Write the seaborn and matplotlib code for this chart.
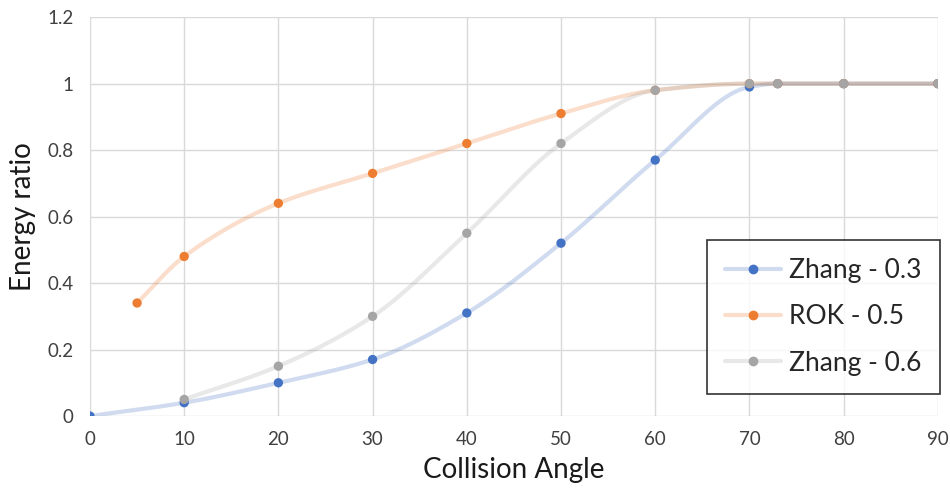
import numpy as np
import pandas as pd
import matplotlib
matplotlib.use("Agg")
import matplotlib.pyplot as plt
import seaborn as sns
from matplotlib.lines import Line2D

# Energy ratio versus collision angle for three models
zhang03_angle = [0, 10, 20, 30, 40, 50, 60, 70, 73, 80, 90]
zhang03_ratio = [0, 0.04, 0.10, 0.17, 0.31, 0.52, 0.77, 0.99, 1.0, 1.0, 1.0]

rok05_angle = [5, 10, 20, 30, 40, 50, 60, 70, 73, 80, 90]
rok05_ratio = [0.34, 0.48, 0.64, 0.73, 0.82, 0.91, 0.98, 1.0, 1.0, 1.0, 1.0]

zhang06_angle = [10, 20, 30, 40, 50, 60, 70, 73, 80, 90]
zhang06_ratio = [0.05, 0.15, 0.30, 0.55, 0.82, 0.98, 1.0, 1.0, 1.0, 1.0]

series_names = ["Zhang - 0.3", "ROK - 0.5", "Zhang - 0.6"]
series_colors = ["#4472C4", "#ED7D31", "#A5A5A5"]

x_ticks = [0, 10, 20, 30, 40, 50, 60, 70, 80, 90]
y_ticks = [0, 0.2, 0.4, 0.6, 0.8, 1.0, 1.2]
y_tick_labels = ["0", "0.2", "0.4", "0.6", "0.8", "1", "1.2"]


def smooth_curve(x, y, steps=30):
    """Monotone cubic (Fritsch-Carlson) curve through the points, for a smoothed line."""
    x = np.asarray(x, float)
    y = np.asarray(y, float)
    h = np.diff(x)
    d = np.diff(y) / h
    n = len(x)
    m = np.zeros(n)
    m[0], m[-1] = d[0], d[-1]
    for i in range(1, n - 1):
        if d[i - 1] * d[i] <= 0:
            m[i] = 0.0
        else:
            w1 = 2 * h[i] + h[i - 1]
            w2 = h[i] + 2 * h[i - 1]
            m[i] = (w1 + w2) / (w1 / d[i - 1] + w2 / d[i])
    xs, ys = [], []
    t = np.linspace(0, 1, steps)
    for i in range(n - 1):
        h00 = 2 * t**3 - 3 * t**2 + 1
        h10 = t**3 - 2 * t**2 + t
        h01 = -2 * t**3 + 3 * t**2
        h11 = t**3 - t**2
        xs.append(x[i] + t * h[i])
        ys.append(h00 * y[i] + h10 * h[i] * m[i] + h01 * y[i + 1] + h11 * h[i] * m[i + 1])
    return np.concatenate(xs), np.concatenate(ys)


sns.set_theme(style="white")
plt.rcParams["font.family"] = ["Lato", "DejaVu Sans"]

fig = plt.figure(figsize=(9.5, 4.9), dpi=100)
ax = fig.add_axes([0.0947, 0.151, 0.8925, 0.814])

all_series = [
    (zhang03_angle, zhang03_ratio),
    (rok05_angle, rok05_ratio),
    (zhang06_angle, zhang06_ratio),
]

frames = []
for name, (xa, ya) in zip(series_names, all_series):
    frames.append(pd.DataFrame({"angle": xa, "ratio": ya, "series": name}))
points = pd.concat(frames, ignore_index=True)

for name, color, (xa, ya) in zip(series_names, series_colors, all_series):
    sx, sy = smooth_curve(xa, ya)
    ax.plot(sx, sy, color=color, alpha=0.25, lw=3.0, solid_capstyle="round", zorder=2)

sns.scatterplot(data=points, x="angle", y="ratio", hue="series",
                palette=dict(zip(series_names, series_colors)),
                s=45, edgecolor="none", ax=ax, legend=False, zorder=3)

ax.set_xlim(0, 90)
ax.set_ylim(0, 1.2)
ax.set_xticks(x_ticks)
ax.set_yticks(y_ticks)
ax.set_yticklabels(y_tick_labels)
ax.grid(True, color="#D9D9D9", lw=1)
for s in ax.spines.values():
    s.set_visible(False)
ax.tick_params(axis="both", labelsize=13.5, colors="#404040", length=0)
ax.tick_params(axis="x", pad=11)
ax.tick_params(axis="y", pad=12)
ax.set_xlabel("Collision Angle", fontsize=20, color="#1a1a1a", labelpad=6)
ax.set_ylabel("Energy ratio", fontsize=20, color="#1a1a1a", labelpad=8)

leg_handles = []
for name, color in zip(series_names, series_colors):
    line = Line2D([0], [0], color=matplotlib.colors.to_rgba(color, 0.25), lw=3.0,
                  marker="o", markersize=6, markerfacecolor=color, markeredgecolor=color)
    leg_handles.append(line)

leg = ax.legend(leg_handles, series_names, loc="lower right",
                bbox_to_anchor=(1.002, 0.055), fontsize=19, frameon=True,
                fancybox=False, edgecolor="black", handlelength=2.1,
                labelspacing=0.8, borderpad=0.7, handletextpad=0.3,
                borderaxespad=0.0)
leg.get_frame().set_linewidth(1.2)
leg.set_zorder(5)

fig.savefig("out.png", dpi=100, facecolor="white")
